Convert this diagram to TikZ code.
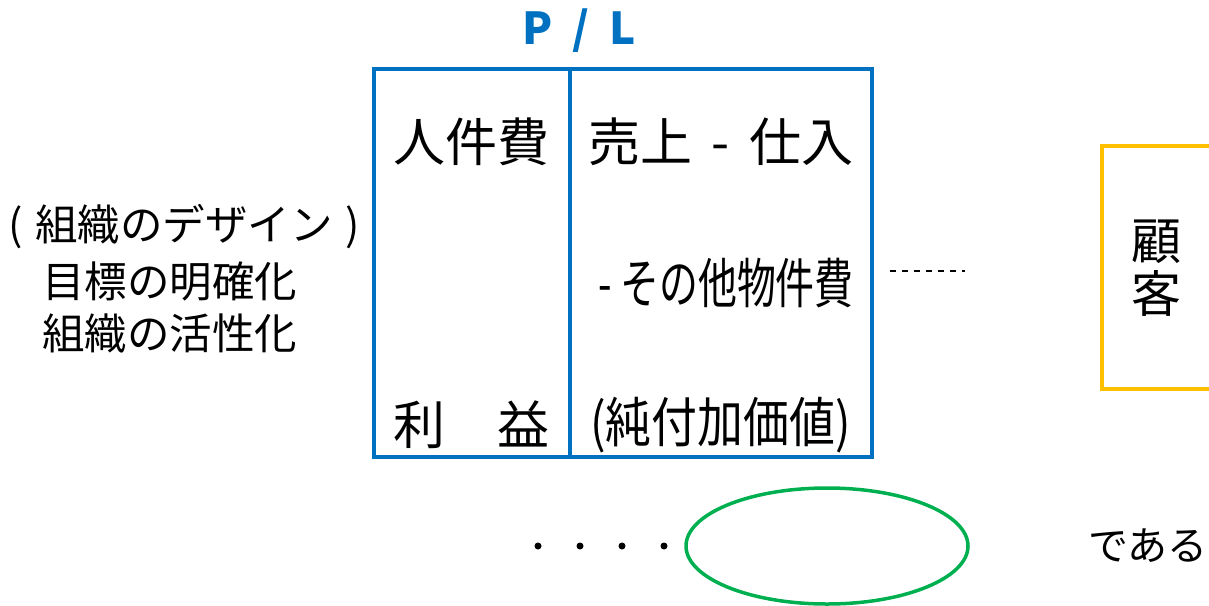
\documentclass[tikz,border=0pt]{standalone}
\usepackage{fontspec}
\setmainfont{Noto Sans CJK JP}
\usepackage{graphicx}
\usetikzlibrary{shapes.geometric}
\definecolor{plblue}{HTML}{0070C0}
\definecolor{custyellow}{HTML}{FFC000}
\definecolor{ovalgreen}{HTML}{00B050}
\begin{document}
\begin{tikzpicture}[x=1pt,y=-1pt,
  plbox/.style={draw=plblue,line width=3.5pt,inner sep=0pt},
  big/.style={font=\fontsize{52}{60}\selectfont,inner sep=0pt},
  cond/.style={font=\fontsize{54}{60}\selectfont,inner sep=0pt},
  side/.style={font=\fontsize{42.5}{48}\selectfont,inner sep=0pt},
  dotn/.style={circle,fill=black,inner sep=0pt,minimum size=7pt}]
\useasboundingbox (0,0) rectangle (1209,605);
\clip (0,0) rectangle (1209,605);
% P/L title
\node[font=\fontsize{44}{50}\selectfont\bfseries,text=plblue,inner sep=0pt] (pl) at (579,31) {P\hspace{0.45em}/\hspace{0.45em}L};
% P/L boxes
\node[plbox,minimum width=196pt,minimum height=388pt] (plleft) at (472,263) {};
\node[plbox,minimum width=302pt,minimum height=388pt] (plright) at (721,263) {};
% texts inside
\node[big,anchor=west] (jinken) at (393,142) {人件費};
\node[big,anchor=west] (uri) at (588,142) {売上\hspace{0.38em}-\hspace{0.38em}仕入};
\node[cond,anchor=west] (sonota) at (598,283) {\scalebox{0.72}[1]{- その他物件費}};
\node[big,anchor=west] (rieki) at (393,425) {利　益};
\node[cond,anchor=west] (junfuka) at (590,425) {\scalebox{0.85}[1]{(純付加価値)}};
% left texts
\node[side,anchor=west] (design) at (8,227) {(\hspace{0.3em}組織のデザイン\hspace{0.3em})};
\node[side,anchor=west] (mokuhyo) at (42,281) {目標の明確化};
\node[side,anchor=west] (kasseika) at (42,333) {組織の活性化};
% dashed line
\coordinate (dsA) at (890,271);
\coordinate (dsB) at (965,271);
\draw[line width=1.2pt,dash pattern=on 6pt off 6pt] (dsA) -- (dsB);
% customer box
\node[draw=custyellow,line width=3.5pt,minimum width=118pt,minimum height=243pt,inner sep=0pt] (cust) at (1161,267.5) {};
\node[font=\fontsize{50}{53}\selectfont,align=center,inner sep=0pt] (kokyaku) at (1156,268) {顧\\客};
% bottom row
\node[dotn] (d1) at (538,546) {};
\node[dotn] (d2) at (580,546) {};
\node[dotn] (d3) at (622,546) {};
\node[dotn] (d4) at (664,546) {};
\node[ellipse,draw=ovalgreen,line width=3.5pt,minimum width=282pt,minimum height=116pt,inner sep=0pt] (oval) at (827,546) {};
\node[font=\fontsize{40}{48}\selectfont,inner sep=0pt,anchor=west] (dearu) at (1088,546) {である};
\end{tikzpicture}
\end{document}
